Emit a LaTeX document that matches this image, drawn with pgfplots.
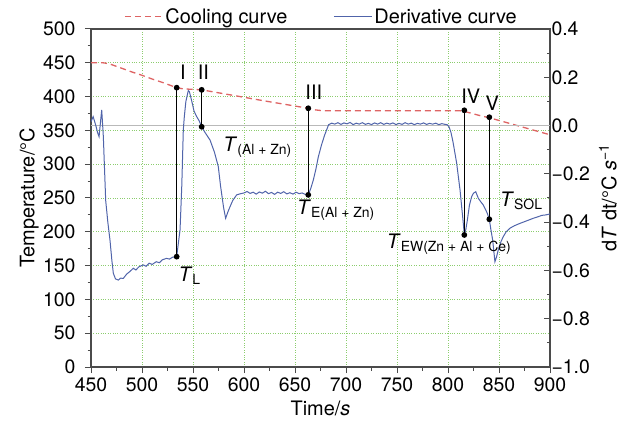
\documentclass[border=0pt]{standalone}
\usepackage{pgfplots}
\pgfplotsset{compat=1.18}
\usepackage{fontspec}
\setmainfont{TeX Gyre Heros}
\definecolor{coolred}{RGB}{222,100,100}
\definecolor{derblue}{RGB}{80,100,170}
\definecolor{gridgreen}{RGB}{140,205,110}
\definecolor{axgray}{RGB}{75,75,75}
\begin{document}
\begin{tikzpicture}[font=\fontsize{20}{24}\selectfont]
\useasboundingbox (0,0) rectangle (635bp,426bp);
\begin{axis}[
  at={(91bp,59bp)}, anchor=south west,
  width=459bp, height=338bp, scale only axis,
  xmin=450, xmax=900, ymin=0, ymax=500,
  xtick={450,500,...,900}, ytick={0,50,...,500},
  minor x tick num=1, minor y tick num=1,
  xtick pos=bottom, ytick pos=left,
  tick align=outside,
  major tick length=6bp, minor tick length=3.5bp,
  every tick/.style={axgray, line width=1bp},
  axis line style={axgray, line width=1.2bp},
  grid=major,
  major grid style={gridgreen, dotted, line width=0.9bp},
  /pgf/number format/assume math mode=true,
  tick label style={font=\fontsize{19.5}{24}\selectfont},
  yticklabel style={xshift=-6bp},
  xticklabel style={yshift=-1bp},
  xlabel={Time/\textit{s}},
  ylabel={Temperature/°C},
  xlabel style={at={(axis description cs:0.5,-0.124)}, anchor=center},
  ylabel style={at={(axis description cs:-0.135,0.5)}, anchor=center},
  label style={font=\fontsize{20}{24}\selectfont},
]
\addplot[coolred, line width=1.3bp, dash pattern=on 6bp off 4bp] coordinates {
(450,450) (462,450) (468,448.5) (480,442) (490,436.5) (500,431.5) (510,426) (520,421) (534,413.2)
(540,411.5) (546,411) (552,410.5) (558.5,410) (580,404.3) (600,399) (620.6,393.5) (640,388.6)
(663,382.7) (670,380.3) (678,379) (700,379) (750,379) (800,379) (812,379) (816,378) (820,376.5)
(830,372.4) (841,368.5) (860,360.5) (880,352) (900,343.5)
};
\end{axis}
\begin{axis}[
  at={(91bp,59bp)}, anchor=south west,
  width=459bp, height=338bp, scale only axis,
  xmin=450, xmax=900, ymin=-1, ymax=0.4,
  axis x line=none,
  axis y line*=right,
  ytick={-1,-0.8,...,0.4},
  yticklabels={−1.0,−0.8,−0.6,−0.4,−0.2,0.0,0.2,0.4},
  minor y tick num=1,
  tick align=inside,
  major tick length=6bp, minor tick length=3.5bp,
  every tick/.style={axgray, line width=1bp},
  axis line style={axgray, line width=1.2bp},
  tick label style={font=\fontsize{19.5}{24}\selectfont},
  yticklabel style={xshift=-2bp},
  ylabel={d\textit{T} dt/°C \textit{s}\textsuperscript{−1}},
  ylabel style={at={(axis description cs:1.126,0.5)}, anchor=center},
  label style={font=\fontsize{20}{24}\selectfont},
  legend columns=2,
  legend style={draw=none, fill=none, at={(axis description cs:0.502,1.036)}, anchor=center,
    font=\fontsize{20}{24}\selectfont,
    /tikz/every even column/.append style={column sep=44bp}},
  legend image code/.code={\draw[#1] (0bp,0bp) -- (38bp,0bp);},
]
\addlegendimage{coolred, line width=1.3bp, dash pattern=on 6bp off 4bp}
\addlegendentry{Cooling curve}
\addplot[gray!55, line width=1.4bp, forget plot] coordinates {(450,0) (900,0)};
\addplot[derblue, line width=1bp] coordinates {
(450,0.016) (452.1,0.037) (454.6,0.002) (456.5,-0.03) (457.9,-0.046) (459.2,0.01) (460.5,0.065) (462.1,-0.046) (464.4,-0.31)
(466.5,-0.40) (468.6,-0.474) (470.5,-0.56) (471.9,-0.612) (474,-0.635) (476.8,-0.640) (479,-0.632) (481.7,-0.633)
(485,-0.615) (488,-0.605) (491.5,-0.591) (494,-0.598) (497,-0.585) (501.3,-0.577) (504,-0.583) (507,-0.570)
(510,-0.575) (514,-0.564) (517,-0.568) (520,-0.556) (524,-0.550) (527,-0.553) (530,-0.545) (534,-0.543)
(537.3,-0.432) (539,-0.25) (540.5,-0.018) (541.5,0.037) (543,0.10) (545.4,0.145) (546.5,0.14) (549.3,0.092)
(551,0.06) (553.6,0.037) (556,0.02) (558.5,-0.005) (562,-0.03) (566.7,-0.06) (571,-0.11) (574.8,-0.17)
(577,-0.25) (580,-0.34) (582,-0.384) (584,-0.36) (586.3,-0.336) (589,-0.31) (592.8,-0.287) (596,-0.283)
(600,-0.279) (603,-0.273) (606,-0.281) (609,-0.276) (612,-0.284) (615,-0.275) (618,-0.280) (621,-0.272)
(624,-0.282) (627,-0.277) (630,-0.285) (633,-0.276) (636,-0.281) (639,-0.274) (642,-0.283) (645,-0.278)
(648,-0.284) (651,-0.276) (654,-0.282) (657,-0.279) (660,-0.285) (663,-0.287)
(665.5,-0.26) (668,-0.225) (670.5,-0.18) (672.9,-0.129) (676,-0.08) (679,-0.04) (681,-0.018)
(683,0.004) (686,0.010) (689,0.006) (692,0.012) (695,0.005) (698,0.011) (701,0.007) (704,0.013) (707,0.004)
(710,0.010) (713,0.006) (716,0.012) (719,0.005) (722,0.009) (725,0.004) (728,0.011) (731,0.006) (734,0.012)
(737,0.005) (740,0.010) (743,0.006) (746,0.011) (749,0.004) (752,0.009) (755,0.005) (758,0.012) (761,0.006)
(764,0.010) (767,0.004) (770,0.009) (773,0.006) (776,0.011) (779,0.005) (782,0.009) (785,0.006) (788,0.010)
(791,0.004) (794,0.008) (797,0.005) (799,0.004) (801,-0.005) (803,-0.03) (805,-0.07) (808.5,-0.156)
(811.8,-0.267) (815,-0.405) (816,-0.453) (817.5,-0.43) (819,-0.391) (821,-0.33) (823.2,-0.294) (825,-0.28)
(827.2,-0.274) (829.7,-0.301) (832,-0.315) (834.6,-0.329) (838.5,-0.363) (840.5,-0.388) (842,-0.43)
(843.8,-0.474) (846,-0.564) (847.5,-0.545) (849.3,-0.515) (852,-0.48) (854.2,-0.460) (857,-0.44)
(860.8,-0.425) (865,-0.415) (870.6,-0.405) (875,-0.398) (880,-0.39) (883.6,-0.384) (888,-0.378)
(892,-0.372) (896,-0.370) (900,-0.366)
};
\addlegendentry{Derivative curve}
\addplot[black, line width=1.3bp, mark=*, mark size=2.2bp, forget plot] coordinates {(534,0.157) (534,-0.543)};
\addplot[black, line width=1.3bp, mark=*, mark size=2.2bp, forget plot] coordinates {(558.5,0.148) (558.5,-0.005)};
\addplot[black, line width=1.3bp, mark=*, mark size=2.2bp, forget plot] coordinates {(663,0.0716) (663,-0.287)};
\addplot[black, line width=1.3bp, mark=*, mark size=2.2bp, forget plot] coordinates {(816,0.0632) (816,-0.453)};
\addplot[black, line width=1.3bp, mark=*, mark size=2.2bp, forget plot] coordinates {(840.5,0.0346) (840.5,-0.388)};
\node[anchor=base] at (axis cs:540,0.189) {I};
\node[anchor=base] at (axis cs:560.1,0.189) {II};
\node[anchor=base] at (axis cs:668.4,0.106) {III};
\node[anchor=base] at (axis cs:822.3,0.093) {IV};
\node[anchor=base] at (axis cs:843.4,0.061) {V};
\node[anchor=base west, inner sep=0pt] at (axis cs:535.6,-0.647) {\textit{T}\textsubscript{L}};
\node[anchor=base west, inner sep=0pt] at (axis cs:579.7,-0.108) {\textit{T}\textsubscript{(Al + Zn)}};
\node[anchor=base west, inner sep=0pt] at (axis cs:652,-0.370) {\textit{T}\textsubscript{E(Al + Zn)}};
\node[anchor=base west, inner sep=0pt] at (axis cs:739.9,-0.508) {\textit{T}\textsubscript{EW(Zn + Al + Ce)}};
\node[anchor=base west, inner sep=0pt] at (axis cs:851,-0.336) {\textit{T}\textsubscript{SOL}};
\end{axis}
\end{tikzpicture}
\end{document}
